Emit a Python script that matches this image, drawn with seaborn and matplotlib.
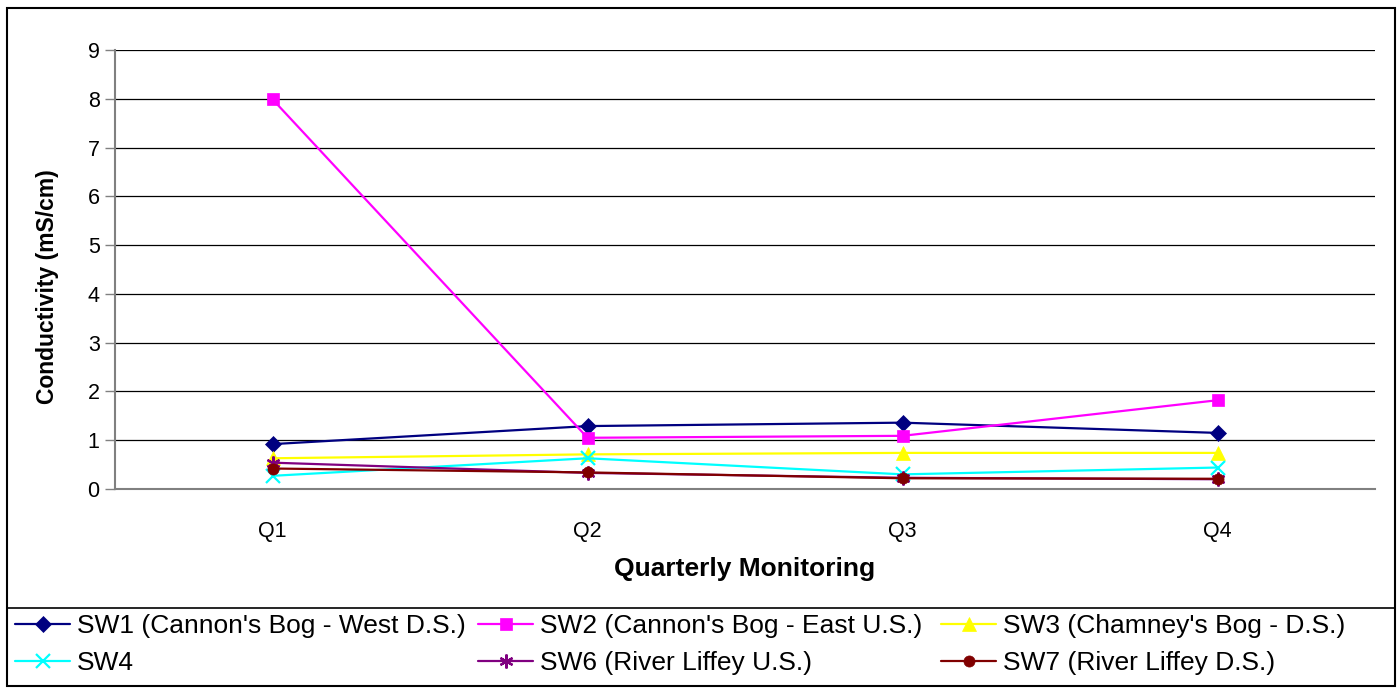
import matplotlib
matplotlib.use("Agg")
import matplotlib.pyplot as plt
import seaborn as sns
import pandas as pd
from matplotlib.patches import Rectangle

quarters = ["Q1", "Q2", "Q3", "Q4"]
sw1 = [0.92, 1.29, 1.36, 1.15]
sw2 = [7.99, 1.05, 1.09, 1.82]
sw3 = [0.63, 0.71, 0.74, 0.74]
sw4 = [0.27, 0.63, 0.30, 0.44]
sw6 = [0.54, 0.33, 0.23, 0.20]
sw7 = [0.42, 0.34, 0.22, 0.21]

names = ["SW1 (Cannon's Bog - West D.S.)", "SW2 (Cannon's Bog - East U.S.)",
         "SW3 (Chamney's Bog - D.S.)", "SW4", "SW6 (River Liffey U.S.)",
         "SW7 (River Liffey D.S.)"]
series = [sw1, sw2, sw3, sw4, sw6, sw7]
colors = ["#000080", "#FF00FF", "#FFFF00", "#00FFFF", "#800080", "#800000"]
markers = ["D", "s", "^", "x", (6, 2, 0), "o"]
msizes = [8, 8, 10, 10, 10, 8]

rows = []
for n, s in zip(names, series):
    for i, (q, v) in enumerate(zip(quarters, s)):
        rows.append({"Quarter": q, "Series": n, "Value": v, "x": i})
df = pd.DataFrame(rows)

sns.set_theme(style="white")
plt.rcParams['font.family'] = ['Liberation Sans', 'DejaVu Sans']
plt.rcParams['text.color'] = 'black'
plt.rcParams['axes.labelcolor'] = 'black'

W, H = 1398, 688
fig = plt.figure(figsize=(W / 100, H / 100), dpi=100)
ax = fig.add_axes([115 / W, 1 - 489 / H, (1375 - 115) / W, (489 - 50) / H])

handles = []
for n, c, m, ms in zip(names, colors, markers, msizes):
    sub = df[df["Series"] == n]
    sns.lineplot(data=sub, x="x", y="Value", ax=ax, color=c, linewidth=1.6,
                 marker=m, markersize=ms, markeredgecolor=c,
                 markeredgewidth=1.6 if m in ("x", (6, 2, 0)) else 0.5,
                 label=n, legend=False)
    handles.append(ax.lines[-1])

ax.set_xlim(-0.5, 3.5)
ax.set_ylim(0, 9)
ax.set_yticks(range(0, 10))
ax.yaxis.grid(True, color="black", linewidth=0.9)
ax.xaxis.grid(False)
ax.set_axisbelow(True)
ax.set_xticks(range(4))
ax.set_xticklabels(quarters)
ax.set_xticks([-0.5, 0.5, 1.5, 2.5, 3.5], minor=True)
ax.tick_params(axis="x", which="major", length=0, labelsize=15.5, pad=23, labelcolor="black")
ax.tick_params(axis="x", which="minor", length=7, color="#808080", width=1, direction="out")
ax.tick_params(axis="y", which="major", length=7, color="#808080", width=1,
               direction="out", labelsize=15.5, left=True, pad=4, labelcolor="black")
for sp in ["top", "right"]:
    ax.spines[sp].set_visible(False)
for sp in ["left", "bottom"]:
    ax.spines[sp].set_color("#808080")
    ax.spines[sp].set_linewidth(1.5)
ax.set_xlabel("Quarterly Monitoring", fontsize=19, fontweight="bold", labelpad=11)
ax.set_ylabel("Conductivity (mS/cm)", fontsize=16.5, fontweight="bold")
ax.yaxis.set_label_coords((59 - 115) / 1260, (489 - 287) / 439)

# outer frame
fig.patches.append(Rectangle((7 / W, 2 / H), 1388 / W, 678 / H, transform=fig.transFigure,
                             fill=False, edgecolor="black", linewidth=1.5))
# legend frame
fig.patches.append(Rectangle((7 / W, 2 / H), 1388 / W, (686 - 608) / H, transform=fig.transFigure,
                             fill=False, edgecolor="black", linewidth=1.2))

col_x = [15, 478, 941]
groups = [[0, 3], [1, 4], [2, 5]]
for cx, g in zip(col_x, groups):
    leg = fig.legend([handles[i] for i in g], [names[i] for i in g],
                     loc="upper left", bbox_to_anchor=(cx / W, 1 - 614 / H),
                     bbox_transform=fig.transFigure, ncol=1, fontsize=19,
                     frameon=False, handlelength=2.1, handletextpad=0.25,
                     borderaxespad=0, borderpad=0, labelspacing=0.5)
    for t in leg.get_texts():
        t.set_color("black")

fig.savefig("out.png", dpi=100)
